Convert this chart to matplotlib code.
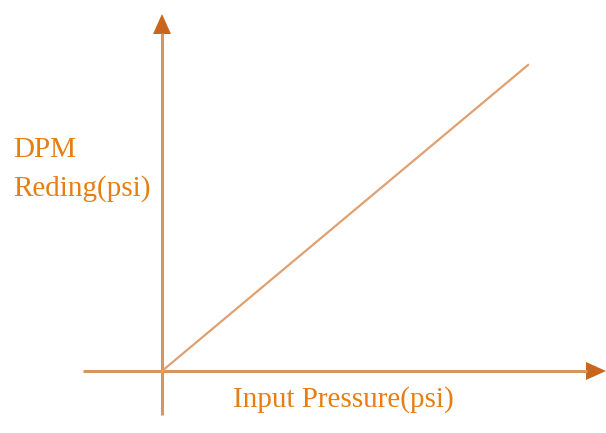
import matplotlib.pyplot as plt
from matplotlib.patches import Polygon

# Conceptual calibration line: DPM reading vs input pressure
input_pressure = [0, 366]
dpm_reading = [0, 306]

AXIS_COLOR = "#d9955e"
LINE_COLOR = "#e0a070"
HEAD_COLOR = "#c9661c"
TEXT_COLOR = "#e57f14"

fig = plt.figure(figsize=(6.06, 4.33), dpi=100)
ax = fig.add_axes([0, 0, 1, 1])
ax.set_xlim(-162, 444)
ax.set_ylim(-62, 371)
ax.axis("off")

# axes with arrowheads
ax.plot([-79, 425], [0, 0], color=AXIS_COLOR, lw=2.2, solid_capstyle="butt")
ax.plot([0, 0], [-44, 338], color=AXIS_COLOR, lw=2.2, solid_capstyle="butt")
ax.add_patch(Polygon([[444, 0], [424, 9], [424, -9]], closed=True, color=HEAD_COLOR, lw=0))
ax.add_patch(Polygon([[0, 357], [-9, 337], [9, 337]], closed=True, color=HEAD_COLOR, lw=0))

ax.plot(input_pressure, dpm_reading, color=LINE_COLOR, lw=1.6)

font = dict(family=["Liberation Serif", "DejaVu Serif"], fontsize=21, color=TEXT_COLOR)
ax.text(71, -36, "Input Pressure(psi)", ha="left", va="baseline", **font)
ax.text(-149, 214, "DPM", ha="left", va="baseline", **font)
ax.text(-149, 175, "Reding(psi)", ha="left", va="baseline", **font)

plt.savefig("out.png", dpi=100, facecolor="white")
